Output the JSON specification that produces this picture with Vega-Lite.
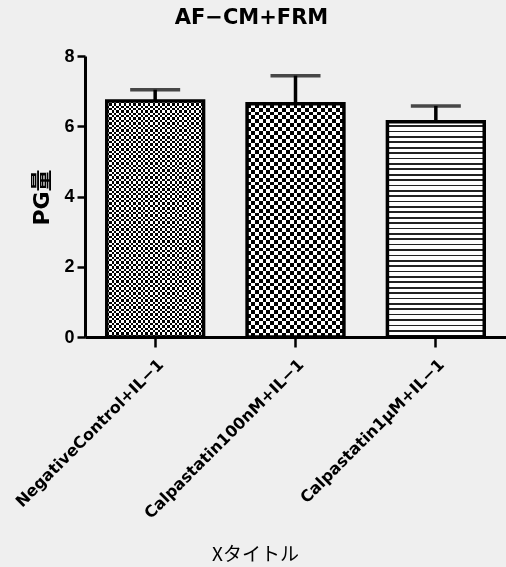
{
"$schema":"https://vega.github.io/schema/vega-lite/v6.json",
"width":421,"height":281,
"autosize":{"type":"none"},
"padding":{"left":85,"top":56,"right":0,"bottom":230},
"background":"#efefef",
"title":{"text":"AF−CM+FRM","font":"DejaVu Sans","fontSize":21,"fontWeight":"bold","color":"#000","anchor":"middle","frame":"group","dx":-44,"offset":19},
"data":{"values":[
{"group":"NegativeControl+IL−1","mean":6.72,"upper":7.04},
{"group":"Calpastatin100nM+IL−1","mean":6.64,"upper":7.44},
{"group":"Calpastatin1μM+IL−1","mean":6.13,"upper":6.58}
]},
"encoding":{
"x":{"field":"group","type":"nominal","sort":null,
"scale":{"domain":["NegativeControl+IL−1","Calpastatin100nM+IL−1","Calpastatin1μM+IL−1"],"paddingInner":0.31,"paddingOuter":0.155},
"axis":{"title":"Xタイトル","titleFont":"Noto Sans CJK JP","titleFontSize":19,"titleFontWeight":"normal","titleX":170,"titleY":217,"titleAlign":"center","titleBaseline":"middle","titleAnchor":null,
"labelAngle":-45,"labelAlign":"right","labelBaseline":"top","labelFont":"DejaVu Sans","labelFontSize":16,"labelFontWeight":"bold","labelPadding":9,"labelLimit":0,
"tickSize":10,"tickWidth":2.5,"domainWidth":3}},
"y":{"field":"mean","type":"quantitative","scale":{"domain":[0,8],"nice":false},
"axis":{"title":"PG量","titleFont":"DejaVu Sans, Noto Sans CJK JP","titleFontSize":22,"titleFontWeight":"bold","titleAngle":-90,"titleX":-44,"titleY":141,"titleAlign":"center","titleBaseline":"middle",
"values":[0,2,4,6,8],"labelFont":"Liberation Sans","labelFontSize":18,"labelFontWeight":"bold","labelPadding":3,"tickSize":8,"tickWidth":2.5,"domainWidth":3}}
},
"layer":[
{"transform":[{"filter":{"field":"group","equal":"NegativeControl+IL−1"}}],
"mark":{"type":"bar","fill":{"gradient":"linear","x1":0,"y1":0,"x2":0,"y2":1,"stops":[
{"offset":0,"color":"#000"},{"offset":0.01,"color":"#000"},{"offset":0.01,"color":"#fff"},{"offset":0.02,"color":"#fff"},{"offset":0.02,"color":"#000"},{"offset":0.03,"color":"#000"},{"offset":0.03,"color":"#fff"},{"offset":0.04,"color":"#fff"},{"offset":0.04,"color":"#000"},{"offset":0.05,"color":"#000"},{"offset":0.05,"color":"#fff"},{"offset":0.06,"color":"#fff"},{"offset":0.06,"color":"#000"},{"offset":0.07,"color":"#000"},{"offset":0.07,"color":"#fff"},{"offset":0.08,"color":"#fff"},{"offset":0.08,"color":"#000"},{"offset":0.09,"color":"#000"},{"offset":0.09,"color":"#fff"},{"offset":0.1,"color":"#fff"},
{"offset":0.1,"color":"#000"},{"offset":0.11,"color":"#000"},{"offset":0.11,"color":"#fff"},{"offset":0.12,"color":"#fff"},{"offset":0.12,"color":"#000"},{"offset":0.13,"color":"#000"},{"offset":0.13,"color":"#fff"},{"offset":0.14,"color":"#fff"},{"offset":0.14,"color":"#000"},{"offset":0.15,"color":"#000"},{"offset":0.15,"color":"#fff"},{"offset":0.16,"color":"#fff"},{"offset":0.16,"color":"#000"},{"offset":0.17,"color":"#000"},{"offset":0.17,"color":"#fff"},{"offset":0.18,"color":"#fff"},{"offset":0.18,"color":"#000"},{"offset":0.19,"color":"#000"},{"offset":0.19,"color":"#fff"},{"offset":0.2,"color":"#fff"},
{"offset":0.2,"color":"#000"},{"offset":0.21,"color":"#000"},{"offset":0.21,"color":"#fff"},{"offset":0.22,"color":"#fff"},{"offset":0.22,"color":"#000"},{"offset":0.23,"color":"#000"},{"offset":0.23,"color":"#fff"},{"offset":0.24,"color":"#fff"},{"offset":0.24,"color":"#000"},{"offset":0.25,"color":"#000"},{"offset":0.25,"color":"#fff"},{"offset":0.26,"color":"#fff"},{"offset":0.26,"color":"#000"},{"offset":0.27,"color":"#000"},{"offset":0.27,"color":"#fff"},{"offset":0.28,"color":"#fff"},{"offset":0.28,"color":"#000"},{"offset":0.29,"color":"#000"},{"offset":0.29,"color":"#fff"},{"offset":0.3,"color":"#fff"},
{"offset":0.3,"color":"#000"},{"offset":0.31,"color":"#000"},{"offset":0.31,"color":"#fff"},{"offset":0.32,"color":"#fff"},{"offset":0.32,"color":"#000"},{"offset":0.33,"color":"#000"},{"offset":0.33,"color":"#fff"},{"offset":0.34,"color":"#fff"},{"offset":0.34,"color":"#000"},{"offset":0.35,"color":"#000"},{"offset":0.35,"color":"#fff"},{"offset":0.36,"color":"#fff"},{"offset":0.36,"color":"#000"},{"offset":0.37,"color":"#000"},{"offset":0.37,"color":"#fff"},{"offset":0.38,"color":"#fff"},{"offset":0.38,"color":"#000"},{"offset":0.39,"color":"#000"},{"offset":0.39,"color":"#fff"},{"offset":0.4,"color":"#fff"},
{"offset":0.4,"color":"#000"},{"offset":0.41,"color":"#000"},{"offset":0.41,"color":"#fff"},{"offset":0.42,"color":"#fff"},{"offset":0.42,"color":"#000"},{"offset":0.43,"color":"#000"},{"offset":0.43,"color":"#fff"},{"offset":0.44,"color":"#fff"},{"offset":0.44,"color":"#000"},{"offset":0.45,"color":"#000"},{"offset":0.45,"color":"#fff"},{"offset":0.46,"color":"#fff"},{"offset":0.46,"color":"#000"},{"offset":0.47,"color":"#000"},{"offset":0.47,"color":"#fff"},{"offset":0.48,"color":"#fff"},{"offset":0.48,"color":"#000"},{"offset":0.49,"color":"#000"},{"offset":0.49,"color":"#fff"},{"offset":0.5,"color":"#fff"},
{"offset":0.5,"color":"#000"},{"offset":0.51,"color":"#000"},{"offset":0.51,"color":"#fff"},{"offset":0.52,"color":"#fff"},{"offset":0.52,"color":"#000"},{"offset":0.53,"color":"#000"},{"offset":0.53,"color":"#fff"},{"offset":0.54,"color":"#fff"},{"offset":0.54,"color":"#000"},{"offset":0.55,"color":"#000"},{"offset":0.55,"color":"#fff"},{"offset":0.56,"color":"#fff"},{"offset":0.56,"color":"#000"},{"offset":0.57,"color":"#000"},{"offset":0.57,"color":"#fff"},{"offset":0.58,"color":"#fff"},{"offset":0.58,"color":"#000"},{"offset":0.59,"color":"#000"},{"offset":0.59,"color":"#fff"},{"offset":0.6,"color":"#fff"},
{"offset":0.6,"color":"#000"},{"offset":0.61,"color":"#000"},{"offset":0.61,"color":"#fff"},{"offset":0.62,"color":"#fff"},{"offset":0.62,"color":"#000"},{"offset":0.63,"color":"#000"},{"offset":0.63,"color":"#fff"},{"offset":0.64,"color":"#fff"},{"offset":0.64,"color":"#000"},{"offset":0.65,"color":"#000"},{"offset":0.65,"color":"#fff"},{"offset":0.66,"color":"#fff"},{"offset":0.66,"color":"#000"},{"offset":0.67,"color":"#000"},{"offset":0.67,"color":"#fff"},{"offset":0.68,"color":"#fff"},{"offset":0.68,"color":"#000"},{"offset":0.69,"color":"#000"},{"offset":0.69,"color":"#fff"},{"offset":0.7,"color":"#fff"},
{"offset":0.7,"color":"#000"},{"offset":0.71,"color":"#000"},{"offset":0.71,"color":"#fff"},{"offset":0.72,"color":"#fff"},{"offset":0.72,"color":"#000"},{"offset":0.73,"color":"#000"},{"offset":0.73,"color":"#fff"},{"offset":0.74,"color":"#fff"},{"offset":0.74,"color":"#000"},{"offset":0.75,"color":"#000"},{"offset":0.75,"color":"#fff"},{"offset":0.76,"color":"#fff"},{"offset":0.76,"color":"#000"},{"offset":0.77,"color":"#000"},{"offset":0.77,"color":"#fff"},{"offset":0.78,"color":"#fff"},{"offset":0.78,"color":"#000"},{"offset":0.79,"color":"#000"},{"offset":0.79,"color":"#fff"},{"offset":0.8,"color":"#fff"},
{"offset":0.8,"color":"#000"},{"offset":0.81,"color":"#000"},{"offset":0.81,"color":"#fff"},{"offset":0.82,"color":"#fff"},{"offset":0.82,"color":"#000"},{"offset":0.83,"color":"#000"},{"offset":0.83,"color":"#fff"},{"offset":0.84,"color":"#fff"},{"offset":0.84,"color":"#000"},{"offset":0.85,"color":"#000"},{"offset":0.85,"color":"#fff"},{"offset":0.86,"color":"#fff"},{"offset":0.86,"color":"#000"},{"offset":0.87,"color":"#000"},{"offset":0.87,"color":"#fff"},{"offset":0.88,"color":"#fff"},{"offset":0.88,"color":"#000"},{"offset":0.89,"color":"#000"},{"offset":0.89,"color":"#fff"},{"offset":0.9,"color":"#fff"},
{"offset":0.9,"color":"#000"},{"offset":0.91,"color":"#000"},{"offset":0.91,"color":"#fff"},{"offset":0.92,"color":"#fff"},{"offset":0.92,"color":"#000"},{"offset":0.93,"color":"#000"},{"offset":0.93,"color":"#fff"},{"offset":0.94,"color":"#fff"},{"offset":0.94,"color":"#000"},{"offset":0.95,"color":"#000"},{"offset":0.95,"color":"#fff"},{"offset":0.96,"color":"#fff"},{"offset":0.96,"color":"#000"},{"offset":0.97,"color":"#000"},{"offset":0.97,"color":"#fff"},{"offset":0.98,"color":"#fff"},{"offset":0.98,"color":"#000"},{"offset":0.99,"color":"#000"},{"offset":0.99,"color":"#fff"},{"offset":1,"color":"#fff"}
]}}},
{"transform":[{"filter":{"field":"group","equal":"NegativeControl+IL−1"}}],
"mark":{"type":"bar","blend":"difference","fill":{"gradient":"linear","x1":0,"y1":0,"x2":1,"y2":0,"stops":[
{"offset":0,"color":"#000"},{"offset":0.025,"color":"#000"},{"offset":0.025,"color":"#fff"},{"offset":0.05,"color":"#fff"},{"offset":0.05,"color":"#000"},{"offset":0.075,"color":"#000"},{"offset":0.075,"color":"#fff"},{"offset":0.1,"color":"#fff"},{"offset":0.1,"color":"#000"},{"offset":0.125,"color":"#000"},{"offset":0.125,"color":"#fff"},{"offset":0.15,"color":"#fff"},{"offset":0.15,"color":"#000"},{"offset":0.175,"color":"#000"},{"offset":0.175,"color":"#fff"},{"offset":0.2,"color":"#fff"},
{"offset":0.2,"color":"#000"},{"offset":0.225,"color":"#000"},{"offset":0.225,"color":"#fff"},{"offset":0.25,"color":"#fff"},{"offset":0.25,"color":"#000"},{"offset":0.275,"color":"#000"},{"offset":0.275,"color":"#fff"},{"offset":0.3,"color":"#fff"},{"offset":0.3,"color":"#000"},{"offset":0.325,"color":"#000"},{"offset":0.325,"color":"#fff"},{"offset":0.35,"color":"#fff"},{"offset":0.35,"color":"#000"},{"offset":0.375,"color":"#000"},{"offset":0.375,"color":"#fff"},{"offset":0.4,"color":"#fff"},
{"offset":0.4,"color":"#000"},{"offset":0.425,"color":"#000"},{"offset":0.425,"color":"#fff"},{"offset":0.45,"color":"#fff"},{"offset":0.45,"color":"#000"},{"offset":0.475,"color":"#000"},{"offset":0.475,"color":"#fff"},{"offset":0.5,"color":"#fff"},{"offset":0.5,"color":"#000"},{"offset":0.525,"color":"#000"},{"offset":0.525,"color":"#fff"},{"offset":0.55,"color":"#fff"},{"offset":0.55,"color":"#000"},{"offset":0.575,"color":"#000"},{"offset":0.575,"color":"#fff"},{"offset":0.6,"color":"#fff"},
{"offset":0.6,"color":"#000"},{"offset":0.625,"color":"#000"},{"offset":0.625,"color":"#fff"},{"offset":0.65,"color":"#fff"},{"offset":0.65,"color":"#000"},{"offset":0.675,"color":"#000"},{"offset":0.675,"color":"#fff"},{"offset":0.7,"color":"#fff"},{"offset":0.7,"color":"#000"},{"offset":0.725,"color":"#000"},{"offset":0.725,"color":"#fff"},{"offset":0.75,"color":"#fff"},{"offset":0.75,"color":"#000"},{"offset":0.775,"color":"#000"},{"offset":0.775,"color":"#fff"},{"offset":0.8,"color":"#fff"},
{"offset":0.8,"color":"#000"},{"offset":0.825,"color":"#000"},{"offset":0.825,"color":"#fff"},{"offset":0.85,"color":"#fff"},{"offset":0.85,"color":"#000"},{"offset":0.875,"color":"#000"},{"offset":0.875,"color":"#fff"},{"offset":0.9,"color":"#fff"},{"offset":0.9,"color":"#000"},{"offset":0.925,"color":"#000"},{"offset":0.925,"color":"#fff"},{"offset":0.95,"color":"#fff"},{"offset":0.95,"color":"#000"},{"offset":0.975,"color":"#000"},{"offset":0.975,"color":"#fff"},{"offset":1,"color":"#fff"}
]}}},
{"transform":[{"filter":{"field":"group","equal":"Calpastatin100nM+IL−1"}}],
"mark":{"type":"bar","fill":{"gradient":"linear","x1":0,"y1":0,"x2":0,"y2":1,"stops":[
{"offset":0,"color":"#000"},{"offset":0.0167,"color":"#000"},{"offset":0.0167,"color":"#fff"},{"offset":0.0333,"color":"#fff"},{"offset":0.0333,"color":"#000"},{"offset":0.05,"color":"#000"},{"offset":0.05,"color":"#fff"},{"offset":0.0667,"color":"#fff"},{"offset":0.0667,"color":"#000"},{"offset":0.0833,"color":"#000"},{"offset":0.0833,"color":"#fff"},{"offset":0.1,"color":"#fff"},
{"offset":0.1,"color":"#000"},{"offset":0.1167,"color":"#000"},{"offset":0.1167,"color":"#fff"},{"offset":0.1333,"color":"#fff"},{"offset":0.1333,"color":"#000"},{"offset":0.15,"color":"#000"},{"offset":0.15,"color":"#fff"},{"offset":0.1667,"color":"#fff"},{"offset":0.1667,"color":"#000"},{"offset":0.1833,"color":"#000"},{"offset":0.1833,"color":"#fff"},{"offset":0.2,"color":"#fff"},
{"offset":0.2,"color":"#000"},{"offset":0.2167,"color":"#000"},{"offset":0.2167,"color":"#fff"},{"offset":0.2333,"color":"#fff"},{"offset":0.2333,"color":"#000"},{"offset":0.25,"color":"#000"},{"offset":0.25,"color":"#fff"},{"offset":0.2667,"color":"#fff"},{"offset":0.2667,"color":"#000"},{"offset":0.2833,"color":"#000"},{"offset":0.2833,"color":"#fff"},{"offset":0.3,"color":"#fff"},
{"offset":0.3,"color":"#000"},{"offset":0.3167,"color":"#000"},{"offset":0.3167,"color":"#fff"},{"offset":0.3333,"color":"#fff"},{"offset":0.3333,"color":"#000"},{"offset":0.35,"color":"#000"},{"offset":0.35,"color":"#fff"},{"offset":0.3667,"color":"#fff"},{"offset":0.3667,"color":"#000"},{"offset":0.3833,"color":"#000"},{"offset":0.3833,"color":"#fff"},{"offset":0.4,"color":"#fff"},
{"offset":0.4,"color":"#000"},{"offset":0.4167,"color":"#000"},{"offset":0.4167,"color":"#fff"},{"offset":0.4333,"color":"#fff"},{"offset":0.4333,"color":"#000"},{"offset":0.45,"color":"#000"},{"offset":0.45,"color":"#fff"},{"offset":0.4667,"color":"#fff"},{"offset":0.4667,"color":"#000"},{"offset":0.4833,"color":"#000"},{"offset":0.4833,"color":"#fff"},{"offset":0.5,"color":"#fff"},
{"offset":0.5,"color":"#000"},{"offset":0.5167,"color":"#000"},{"offset":0.5167,"color":"#fff"},{"offset":0.5333,"color":"#fff"},{"offset":0.5333,"color":"#000"},{"offset":0.55,"color":"#000"},{"offset":0.55,"color":"#fff"},{"offset":0.5667,"color":"#fff"},{"offset":0.5667,"color":"#000"},{"offset":0.5833,"color":"#000"},{"offset":0.5833,"color":"#fff"},{"offset":0.6,"color":"#fff"},
{"offset":0.6,"color":"#000"},{"offset":0.6167,"color":"#000"},{"offset":0.6167,"color":"#fff"},{"offset":0.6333,"color":"#fff"},{"offset":0.6333,"color":"#000"},{"offset":0.65,"color":"#000"},{"offset":0.65,"color":"#fff"},{"offset":0.6667,"color":"#fff"},{"offset":0.6667,"color":"#000"},{"offset":0.6833,"color":"#000"},{"offset":0.6833,"color":"#fff"},{"offset":0.7,"color":"#fff"},
{"offset":0.7,"color":"#000"},{"offset":0.7167,"color":"#000"},{"offset":0.7167,"color":"#fff"},{"offset":0.7333,"color":"#fff"},{"offset":0.7333,"color":"#000"},{"offset":0.75,"color":"#000"},{"offset":0.75,"color":"#fff"},{"offset":0.7667,"color":"#fff"},{"offset":0.7667,"color":"#000"},{"offset":0.7833,"color":"#000"},{"offset":0.7833,"color":"#fff"},{"offset":0.8,"color":"#fff"},
{"offset":0.8,"color":"#000"},{"offset":0.8167,"color":"#000"},{"offset":0.8167,"color":"#fff"},{"offset":0.8333,"color":"#fff"},{"offset":0.8333,"color":"#000"},{"offset":0.85,"color":"#000"},{"offset":0.85,"color":"#fff"},{"offset":0.8667,"color":"#fff"},{"offset":0.8667,"color":"#000"},{"offset":0.8833,"color":"#000"},{"offset":0.8833,"color":"#fff"},{"offset":0.9,"color":"#fff"},
{"offset":0.9,"color":"#000"},{"offset":0.9167,"color":"#000"},{"offset":0.9167,"color":"#fff"},{"offset":0.9333,"color":"#fff"},{"offset":0.9333,"color":"#000"},{"offset":0.95,"color":"#000"},{"offset":0.95,"color":"#fff"},{"offset":0.9667,"color":"#fff"},{"offset":0.9667,"color":"#000"},{"offset":0.9833,"color":"#000"},{"offset":0.9833,"color":"#fff"},{"offset":1,"color":"#fff"}
]}}},
{"transform":[{"filter":{"field":"group","equal":"Calpastatin100nM+IL−1"}}],
"mark":{"type":"bar","blend":"difference","fill":{"gradient":"linear","x1":0,"y1":0,"x2":1,"y2":0,"stops":[
{"offset":0,"color":"#000"},{"offset":0.04,"color":"#000"},{"offset":0.04,"color":"#fff"},{"offset":0.08,"color":"#fff"},{"offset":0.08,"color":"#000"},{"offset":0.12,"color":"#000"},{"offset":0.12,"color":"#fff"},{"offset":0.16,"color":"#fff"},{"offset":0.16,"color":"#000"},{"offset":0.2,"color":"#000"},
{"offset":0.2,"color":"#fff"},{"offset":0.24,"color":"#fff"},{"offset":0.24,"color":"#000"},{"offset":0.28,"color":"#000"},{"offset":0.28,"color":"#fff"},{"offset":0.32,"color":"#fff"},{"offset":0.32,"color":"#000"},{"offset":0.36,"color":"#000"},{"offset":0.36,"color":"#fff"},{"offset":0.4,"color":"#fff"},
{"offset":0.4,"color":"#000"},{"offset":0.44,"color":"#000"},{"offset":0.44,"color":"#fff"},{"offset":0.48,"color":"#fff"},{"offset":0.48,"color":"#000"},{"offset":0.52,"color":"#000"},{"offset":0.52,"color":"#fff"},{"offset":0.56,"color":"#fff"},{"offset":0.56,"color":"#000"},{"offset":0.6,"color":"#000"},
{"offset":0.6,"color":"#fff"},{"offset":0.64,"color":"#fff"},{"offset":0.64,"color":"#000"},{"offset":0.68,"color":"#000"},{"offset":0.68,"color":"#fff"},{"offset":0.72,"color":"#fff"},{"offset":0.72,"color":"#000"},{"offset":0.76,"color":"#000"},{"offset":0.76,"color":"#fff"},{"offset":0.8,"color":"#fff"},
{"offset":0.8,"color":"#000"},{"offset":0.84,"color":"#000"},{"offset":0.84,"color":"#fff"},{"offset":0.88,"color":"#fff"},{"offset":0.88,"color":"#000"},{"offset":0.92,"color":"#000"},{"offset":0.92,"color":"#fff"},{"offset":0.96,"color":"#fff"},{"offset":0.96,"color":"#000"},{"offset":1,"color":"#000"}
]}}},
{"transform":[{"filter":{"field":"group","equal":"Calpastatin1μM+IL−1"}}],
"mark":{"type":"bar","fill":{"gradient":"linear","x1":0,"y1":0,"x2":0,"y2":1,"stops":[
{"offset":0,"color":"#fff"},{"offset":0.017,"color":"#fff"},{"offset":0.017,"color":"#222"},{"offset":0.025,"color":"#222"},
{"offset":0.025,"color":"#fff"},{"offset":0.042,"color":"#fff"},{"offset":0.042,"color":"#222"},{"offset":0.05,"color":"#222"},
{"offset":0.05,"color":"#fff"},{"offset":0.067,"color":"#fff"},{"offset":0.067,"color":"#222"},{"offset":0.075,"color":"#222"},
{"offset":0.075,"color":"#fff"},{"offset":0.092,"color":"#fff"},{"offset":0.092,"color":"#222"},{"offset":0.1,"color":"#222"},
{"offset":0.1,"color":"#fff"},{"offset":0.117,"color":"#fff"},{"offset":0.117,"color":"#222"},{"offset":0.125,"color":"#222"},
{"offset":0.125,"color":"#fff"},{"offset":0.142,"color":"#fff"},{"offset":0.142,"color":"#222"},{"offset":0.15,"color":"#222"},
{"offset":0.15,"color":"#fff"},{"offset":0.167,"color":"#fff"},{"offset":0.167,"color":"#222"},{"offset":0.175,"color":"#222"},
{"offset":0.175,"color":"#fff"},{"offset":0.192,"color":"#fff"},{"offset":0.192,"color":"#222"},{"offset":0.2,"color":"#222"},
{"offset":0.2,"color":"#fff"},{"offset":0.217,"color":"#fff"},{"offset":0.217,"color":"#222"},{"offset":0.225,"color":"#222"},
{"offset":0.225,"color":"#fff"},{"offset":0.242,"color":"#fff"},{"offset":0.242,"color":"#222"},{"offset":0.25,"color":"#222"},
{"offset":0.25,"color":"#fff"},{"offset":0.267,"color":"#fff"},{"offset":0.267,"color":"#222"},{"offset":0.275,"color":"#222"},
{"offset":0.275,"color":"#fff"},{"offset":0.292,"color":"#fff"},{"offset":0.292,"color":"#222"},{"offset":0.3,"color":"#222"},
{"offset":0.3,"color":"#fff"},{"offset":0.317,"color":"#fff"},{"offset":0.317,"color":"#222"},{"offset":0.325,"color":"#222"},
{"offset":0.325,"color":"#fff"},{"offset":0.342,"color":"#fff"},{"offset":0.342,"color":"#222"},{"offset":0.35,"color":"#222"},
{"offset":0.35,"color":"#fff"},{"offset":0.367,"color":"#fff"},{"offset":0.367,"color":"#222"},{"offset":0.375,"color":"#222"},
{"offset":0.375,"color":"#fff"},{"offset":0.392,"color":"#fff"},{"offset":0.392,"color":"#222"},{"offset":0.4,"color":"#222"},
{"offset":0.4,"color":"#fff"},{"offset":0.417,"color":"#fff"},{"offset":0.417,"color":"#222"},{"offset":0.425,"color":"#222"},
{"offset":0.425,"color":"#fff"},{"offset":0.442,"color":"#fff"},{"offset":0.442,"color":"#222"},{"offset":0.45,"color":"#222"},
{"offset":0.45,"color":"#fff"},{"offset":0.467,"color":"#fff"},{"offset":0.467,"color":"#222"},{"offset":0.475,"color":"#222"},
{"offset":0.475,"color":"#fff"},{"offset":0.492,"color":"#fff"},{"offset":0.492,"color":"#222"},{"offset":0.5,"color":"#222"},
{"offset":0.5,"color":"#fff"},{"offset":0.517,"color":"#fff"},{"offset":0.517,"color":"#222"},{"offset":0.525,"color":"#222"},
{"offset":0.525,"color":"#fff"},{"offset":0.542,"color":"#fff"},{"offset":0.542,"color":"#222"},{"offset":0.55,"color":"#222"},
{"offset":0.55,"color":"#fff"},{"offset":0.567,"color":"#fff"},{"offset":0.567,"color":"#222"},{"offset":0.575,"color":"#222"},
{"offset":0.575,"color":"#fff"},{"offset":0.592,"color":"#fff"},{"offset":0.592,"color":"#222"},{"offset":0.6,"color":"#222"},
{"offset":0.6,"color":"#fff"},{"offset":0.617,"color":"#fff"},{"offset":0.617,"color":"#222"},{"offset":0.625,"color":"#222"},
{"offset":0.625,"color":"#fff"},{"offset":0.642,"color":"#fff"},{"offset":0.642,"color":"#222"},{"offset":0.65,"color":"#222"},
{"offset":0.65,"color":"#fff"},{"offset":0.667,"color":"#fff"},{"offset":0.667,"color":"#222"},{"offset":0.675,"color":"#222"},
{"offset":0.675,"color":"#fff"},{"offset":0.692,"color":"#fff"},{"offset":0.692,"color":"#222"},{"offset":0.7,"color":"#222"},
{"offset":0.7,"color":"#fff"},{"offset":0.717,"color":"#fff"},{"offset":0.717,"color":"#222"},{"offset":0.725,"color":"#222"},
{"offset":0.725,"color":"#fff"},{"offset":0.742,"color":"#fff"},{"offset":0.742,"color":"#222"},{"offset":0.75,"color":"#222"},
{"offset":0.75,"color":"#fff"},{"offset":0.767,"color":"#fff"},{"offset":0.767,"color":"#222"},{"offset":0.775,"color":"#222"},
{"offset":0.775,"color":"#fff"},{"offset":0.792,"color":"#fff"},{"offset":0.792,"color":"#222"},{"offset":0.8,"color":"#222"},
{"offset":0.8,"color":"#fff"},{"offset":0.817,"color":"#fff"},{"offset":0.817,"color":"#222"},{"offset":0.825,"color":"#222"},
{"offset":0.825,"color":"#fff"},{"offset":0.842,"color":"#fff"},{"offset":0.842,"color":"#222"},{"offset":0.85,"color":"#222"},
{"offset":0.85,"color":"#fff"},{"offset":0.867,"color":"#fff"},{"offset":0.867,"color":"#222"},{"offset":0.875,"color":"#222"},
{"offset":0.875,"color":"#fff"},{"offset":0.892,"color":"#fff"},{"offset":0.892,"color":"#222"},{"offset":0.9,"color":"#222"},
{"offset":0.9,"color":"#fff"},{"offset":0.917,"color":"#fff"},{"offset":0.917,"color":"#222"},{"offset":0.925,"color":"#222"},
{"offset":0.925,"color":"#fff"},{"offset":0.942,"color":"#fff"},{"offset":0.942,"color":"#222"},{"offset":0.95,"color":"#222"},
{"offset":0.95,"color":"#fff"},{"offset":0.967,"color":"#fff"},{"offset":0.967,"color":"#222"},{"offset":0.975,"color":"#222"},
{"offset":0.975,"color":"#fff"},{"offset":0.992,"color":"#fff"},{"offset":0.992,"color":"#222"},{"offset":1,"color":"#222"}
]}}},
{"mark":{"type":"bar","fill":"transparent","stroke":"#000","strokeWidth":3.5}},
{"mark":{"type":"rule","color":"#000","strokeWidth":3.5},"encoding":{"y":{"field":"mean","type":"quantitative"},"y2":{"field":"upper"}}},
{"mark":{"type":"tick","color":"#000","thickness":3.5,"size":50},"encoding":{"y":{"field":"upper","type":"quantitative"}}}
],
"config":{"view":{"stroke":null},"axis":{"grid":false,"domainColor":"#000","tickColor":"#000","labelColor":"#000","titleColor":"#000"}}
}
